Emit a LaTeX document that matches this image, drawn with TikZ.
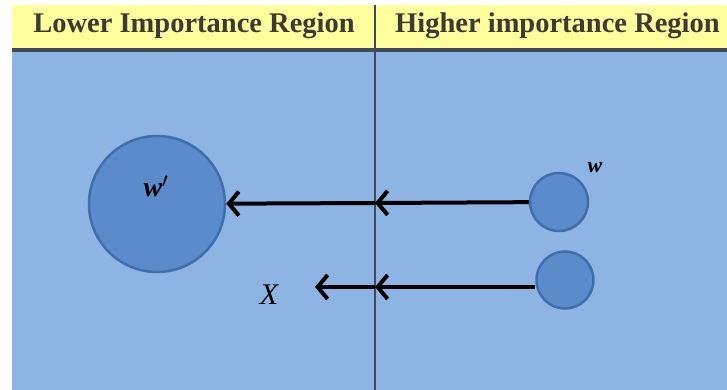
\documentclass[tikz,border=0pt]{standalone}
\usepackage{fontspec}
\setmainfont{Liberation Serif}
\usetikzlibrary{arrows.meta}
\definecolor{headyellow}{HTML}{FFFF9E}
\definecolor{regionblue}{HTML}{8EB4E3}
\definecolor{circlefill}{HTML}{5B8BCB}
\definecolor{circleedge}{HTML}{3F6FAA}
\definecolor{divider}{HTML}{3E4A58}
\tikzstyle{header} = [font=\fontsize{28.5}{32}\selectfont\bfseries, text=black!88!yellow, inner sep=0pt]
\tikzstyle{weight} = [circle, draw=circleedge, line width=2.5pt, fill=circlefill, inner sep=0pt]
\tikzstyle{line} = [draw, line width=4pt, -{Straight Barb[length=10pt,width=24pt]}]

\begin{document}
\begin{tikzpicture}[x=1pt, y=-1pt]
  \useasboundingbox (0,0) rectangle (727,390);
  % Regions
  \fill [headyellow] (12,5) rectangle (727,48);
  \fill [regionblue] (12,52) rectangle (727,390);
  \draw [divider, line width=3.5pt] (12,50) -- (727,50);
  \draw [divider, line width=2pt] (375,5) -- (375,390);
  \node [header] (low) at (194,26) {Lower Importance Region};
  \node [header, anchor=west] (high) at (395,26) {Higher importance Region};

  % Place nodes
  \node [weight, minimum size=136pt] (wp) at (157,204) {};
  \node [weight, minimum size=58pt] (w1) at (559,202) {};
  \node [weight, minimum size=57pt] (w2) at (565,280) {};
  \coordinate (m1) at (375,203);
  \coordinate (m2) at (375,287);
  \coordinate (xend) at (315,287);
  % Labels
  \node [font=\fontsize{28}{30}\selectfont\bfseries\itshape] (lwp) at (156,186) {w$'$};
  \node [font=\fontsize{22}{24}\selectfont\bfseries\itshape] (lw) at (595,168) {w};
  \node [font=\fontsize{30}{32}\selectfont\itshape] (lx) at (269,295) {X};

  % Draw edges
  \path [line] (w1) -- (m1);
  \path [line] (m1) -- (wp);
  \path [line] (w2.west |- m2) -- (m2);
  \path [line] (m2) -- (xend);
\end{tikzpicture}
\end{document}
